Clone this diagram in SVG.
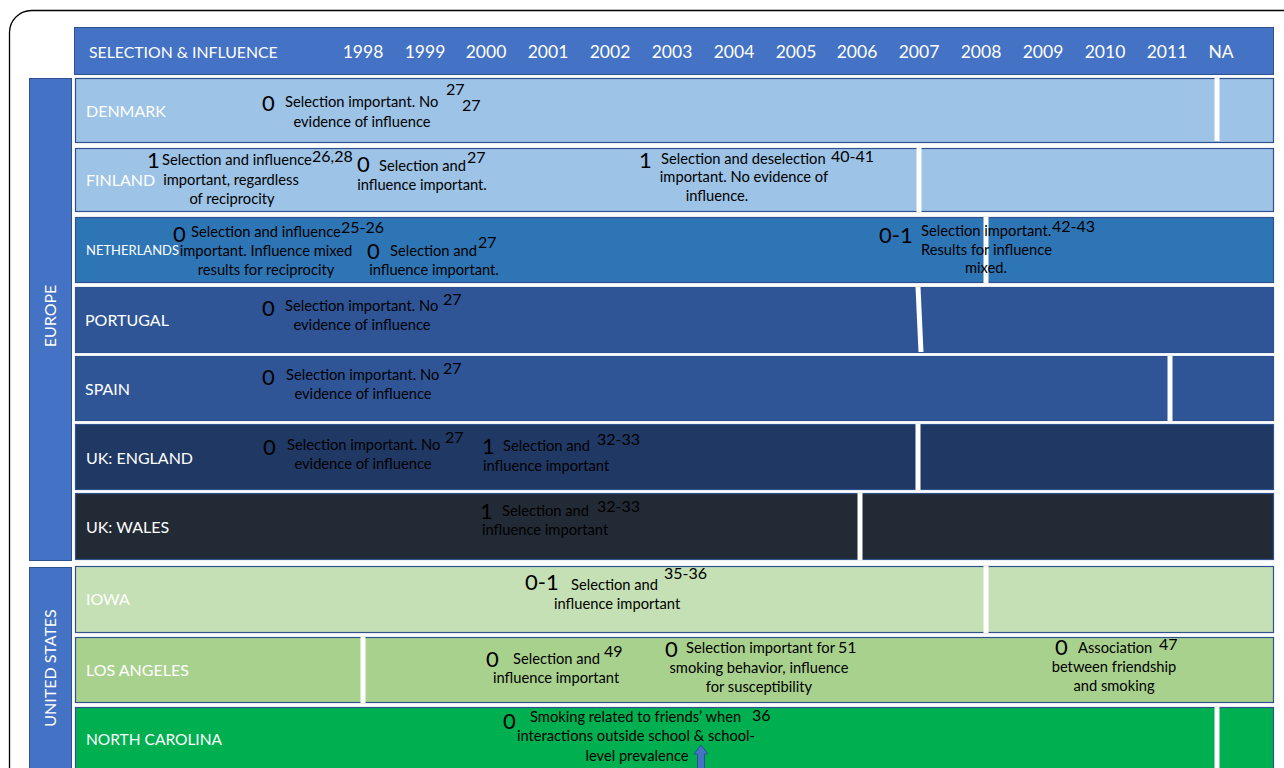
<svg xmlns="http://www.w3.org/2000/svg" width="1284" height="768" viewBox="0 0 1284 768">
<style>
text{font-family:Lato,"Open Sans","Liberation Sans",sans-serif}
.frame{fill:#fff;stroke:#000;stroke-width:1.3}
.bar{fill:#4472C4;stroke:#2F528F;stroke-width:1}
.row{stroke:#2F528F;stroke-width:1.2}
.div{stroke:#fff;stroke-width:5}
.hd{fill:#fff;font-size:17.5px}
.lbl{fill:#fff;font-size:16px}
.t{fill:#000;font-size:14.7px}
.n{fill:#000;font-size:22px}
.s{fill:#000;font-size:16px}
.m{text-anchor:middle}
</style>
<rect class="frame" x="9.5" y="10.5" width="1320" height="820" rx="22"/>
<g id="header">
<rect class="bar" x="74.5" y="27.5" width="1199" height="47"/>
<text class="hd" x="89" y="58" style="font-size:15.8px">SELECTION &amp; INFLUENCE</text>
<text class="hd m" x="363" y="58">1998</text>
<text class="hd m" x="425" y="58">1999</text>
<text class="hd m" x="486" y="58">2000</text>
<text class="hd m" x="548" y="58">2001</text>
<text class="hd m" x="610" y="58">2002</text>
<text class="hd m" x="672" y="58">2003</text>
<text class="hd m" x="734" y="58">2004</text>
<text class="hd m" x="796" y="58">2005</text>
<text class="hd m" x="857" y="58">2006</text>
<text class="hd m" x="919" y="58">2007</text>
<text class="hd m" x="981" y="58">2008</text>
<text class="hd m" x="1043" y="58">2009</text>
<text class="hd m" x="1105" y="58">2010</text>
<text class="hd m" x="1167" y="58">2011</text>
<text class="hd m" x="1221" y="58">NA</text>
</g>
<g id="europe">
<rect class="bar" x="29.5" y="78.5" width="42" height="482"/>
<text class="lbl m" transform="translate(56,316) rotate(-90)">EUROPE</text>
</g>
<g id="united-states">
<rect class="bar" x="29.5" y="567.5" width="42" height="230"/>
<text class="lbl m" transform="translate(56,668) rotate(-90)">UNITED STATES</text>
</g>
<g id="denmark">
<rect class="row" x="75.5" y="78.5" width="1198" height="64" fill="#9DC3E6"/>
<line class="div" x1="1217" y1="78" x2="1217" y2="141"/>
<text class="lbl" x="86" y="117">DENMARK</text>
<text class="n" x="262" y="111">0</text>
<text class="t" x="285" y="107">Selection important. No</text>
<text class="t m" x="362" y="127">evidence of influence</text>
<text class="s" x="446" y="95">27</text>
<text class="s" x="462" y="111">27</text>
</g>
<g id="finland">
<rect class="row" x="75.5" y="148.5" width="1198" height="63" fill="#9DC3E6"/>
<line class="div" x1="919" y1="146" x2="919" y2="212"/>
<text class="lbl" x="86" y="186">FINLAND</text>
<text class="n" x="147" y="168">1</text>
<text class="t" x="162" y="165">Selection and influence</text>
<text class="s" x="312" y="162">26,28</text>
<text class="t m" x="231" y="185">important, regardless</text>
<text class="t m" x="232" y="204">of reciprocity</text>
<text class="n" x="357" y="172">0</text>
<text class="t" x="379" y="171">Selection and</text>
<text class="s" x="467" y="163">27</text>
<text class="t m" x="422" y="190">influence important.</text>
<text class="n" x="639" y="168">1</text>
<text class="t" x="661" y="164">Selection and deselection</text>
<text class="s" x="831" y="162">40-41</text>
<text class="t m" x="744" y="182">important. No evidence of</text>
<text class="t m" x="717" y="201">influence.</text>
</g>
<g id="netherlands">
<rect class="row" x="75.5" y="217.5" width="1198" height="65" fill="#2E75B6"/>
<line class="div" x1="986" y1="217" x2="986" y2="283"/>
<text class="lbl" x="86" y="255" style="font-size:13px">NETHERLANDS</text>
<text class="n" x="173" y="242">0</text>
<text class="t" x="191" y="237">Selection and influence</text>
<text class="s" x="341" y="233">25-26</text>
<text class="t m" x="266" y="256">important. Influence mixed</text>
<text class="t m" x="266" y="275">results for reciprocity</text>
<text class="n" x="367" y="259">0</text>
<text class="t" x="390" y="256">Selection and</text>
<text class="s" x="478" y="248">27</text>
<text class="t m" x="434" y="275">influence important.</text>
<text class="n" x="879" y="243">0-1</text>
<text class="t" x="921" y="236">Selection important.</text>
<text class="s" x="1052" y="232">42-43</text>
<text class="t" x="921" y="255">Results for influence</text>
<text class="t m" x="986" y="273">mixed.</text>
</g>
<g id="portugal">
<rect class="row" x="75.5" y="287.5" width="1198" height="65" fill="#2F5597"/>
<line class="div" x1="918" y1="287" x2="921" y2="352"/>
<text class="lbl" x="85" y="326">PORTUGAL</text>
<text class="n" x="262" y="316">0</text>
<text class="t" x="285" y="311">Selection important. No</text>
<text class="s" x="443" y="305">27</text>
<text class="t m" x="362" y="330">evidence of influence</text>
</g>
<g id="spain">
<rect class="row" x="75.5" y="356.5" width="1198" height="64" fill="#2F5597"/>
<line class="div" x1="1170" y1="356" x2="1170" y2="421"/>
<text class="lbl" x="85" y="395">SPAIN</text>
<text class="n" x="262" y="385">0</text>
<text class="t" x="286" y="380">Selection important. No</text>
<text class="s" x="443" y="374">27</text>
<text class="t m" x="363" y="399">evidence of influence</text>
</g>
<g id="uk-england">
<rect class="row" x="75.5" y="424.5" width="1198" height="65" fill="#203864"/>
<line class="div" x1="918" y1="424" x2="918" y2="490"/>
<text class="lbl" x="86" y="464">UK: ENGLAND</text>
<text class="n" x="263" y="455">0</text>
<text class="t" x="287" y="450">Selection important. No</text>
<text class="s" x="445" y="443">27</text>
<text class="t m" x="363" y="469">evidence of influence</text>
<text class="n" x="482" y="454">1</text>
<text class="t" x="503" y="451">Selection and</text>
<text class="s" x="597" y="445">32-33</text>
<text class="t" x="483" y="471">influence important</text>
</g>
<g id="uk-wales">
<rect class="row" x="75.5" y="493.5" width="1198" height="66" fill="#222A35"/>
<line class="div" x1="860" y1="493" x2="860" y2="560"/>
<text class="lbl" x="86" y="533">UK: WALES</text>
<text class="n" x="480" y="519">1</text>
<text class="t" x="502" y="516">Selection and</text>
<text class="s" x="597" y="512">32-33</text>
<text class="t" x="482" y="535">influence important</text>
</g>
<g id="iowa">
<rect class="row" x="75.5" y="566.5" width="1198" height="66" fill="#C5E0B4"/>
<line class="div" x1="986" y1="566" x2="986" y2="633"/>
<text class="lbl" x="86" y="605">IOWA</text>
<text class="n" x="525" y="590">0-1</text>
<text class="t" x="571" y="590">Selection and</text>
<text class="s" x="664" y="579">35-36</text>
<text class="t" x="554" y="609">influence important</text>
</g>
<g id="los-angeles">
<rect class="row" x="75.5" y="637.5" width="1198" height="65" fill="#A9D18E"/>
<line class="div" x1="363" y1="637" x2="363" y2="703"/>
<text class="lbl" x="86" y="676">LOS ANGELES</text>
<text class="n" x="486" y="667">0</text>
<text class="t" x="513" y="664">Selection and</text>
<text class="s" x="604" y="657">49</text>
<text class="t" x="493" y="683">influence important</text>
<text class="n" x="665" y="657">0</text>
<text class="t" x="686" y="653">Selection important for</text>
<text class="s" x="838" y="653">51</text>
<text class="t m" x="759" y="673">smoking behavior, influence</text>
<text class="t m" x="759" y="692">for susceptibility</text>
<text class="n" x="1055" y="655">0</text>
<text class="t" x="1078" y="653">Association</text>
<text class="s" x="1159" y="650">47</text>
<text class="t m" x="1114" y="672">between friendship</text>
<text class="t m" x="1114" y="691">and smoking</text>
</g>
<g id="north-carolina">
<rect class="row" x="75.5" y="707.5" width="1198" height="80" fill="#00B050"/>
<line class="div" x1="1217" y1="707" x2="1217" y2="768"/>
<text class="lbl" x="86" y="745" style="font-size:15.5px">NORTH CAROLINA</text>
<text class="n" x="503" y="729">0</text>
<text class="t" x="530" y="722">Smoking related to friends’ when</text>
<text class="s" x="752" y="721">36</text>
<text class="t m" x="636" y="741">interactions outside school &amp; school-</text>
<text class="t m" x="637" y="761">level prevalence</text>
</g>
<g id="connectors">
<path d="M701,745 L708,754 L704.5,754 L704.5,770 L697.5,770 L697.5,754 L694,754 Z" fill="#4472C4" stroke="#2F528F" stroke-width="1"/>
</g>
</svg>
